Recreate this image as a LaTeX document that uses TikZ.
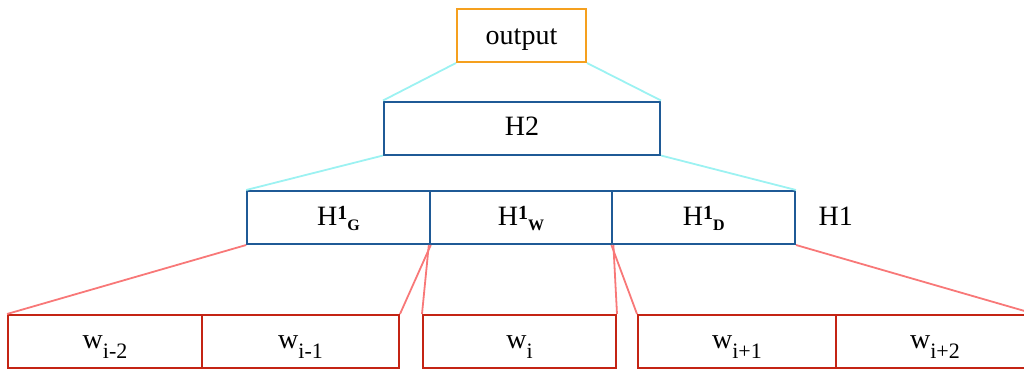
\documentclass[tikz,border=0pt]{standalone}
\usepackage{fontspec}
\setmainfont{Liberation Serif}
\usetikzlibrary{positioning}
\definecolor{outorange}{HTML}{F5A01E}
\definecolor{hblue}{HTML}{1F5A96}
\definecolor{wred}{HTML}{C42414}
\definecolor{lcyan}{HTML}{9CF2F2}
\definecolor{lred}{HTML}{F87878}
\newcommand{\hsub}[1]{H\raisebox{3pt}{\fontsize{10}{11}\selectfont\textbf{1}}\raisebox{-2.5pt}{\fontsize{8}{9}\selectfont\textbf{#1}}}
\newcommand{\wsub}[1]{w\raisebox{-5pt}{\fontsize{11}{12}\selectfont #1}}

\begin{document}
\begin{tikzpicture}[x=0.5pt,y=-0.5pt,node distance=3cm,auto]
		\tikzstyle{outbox} = [rectangle, draw=outorange, line width=1pt, minimum width=64.5pt, minimum height=26.5pt, inner sep=0pt, text height=10pt, text depth=1.5pt]
		\tikzstyle{hbox} = [rectangle, draw=hblue, line width=1pt, minimum height=26.5pt, inner sep=0pt, text height=10pt, text depth=2.5pt]
		\tikzstyle{wbox} = [rectangle, draw=wred, line width=1pt, minimum height=26.5pt, inner sep=0pt, text height=10pt, text depth=3pt]
		\tikzstyle{upline} = [draw=lcyan, line width=0.9pt]
		\tikzstyle{downline} = [draw=lred, line width=0.9pt]
		\useasboundingbox (0,0) rectangle (1024,370);
		\fontsize{14}{16}\selectfont
		\node (out) [outbox] at (521.5,35.5) {output};
		\node (h2) [hbox, minimum width=138pt] at (522,128) {H2};
		\node (hg) [hbox, minimum width=91.3pt] at (338.5,217.5) {\hsub{G}};
		\node (hw) [hbox, minimum width=91.3pt, right of=hg, node distance=91.3pt] {\hsub{W}};
		\node (hd) [hbox, minimum width=91.3pt, right of=hw, node distance=91.3pt] {\hsub{D}};
		\node (h1) [right of=hd, node distance=66pt, text height=10pt, text depth=2.5pt] {H1};
		\node (wa) [wbox, minimum width=97pt] at (105,341.5) {\wsub{i-2}};
		\node (wb) [wbox, minimum width=98.5pt, right of=wa, node distance=97.75pt] {\wsub{i-1}};
		\node (wc) [wbox, minimum width=96.5pt] at (519.5,341.5) {\wsub{i}};
		\node (wd) [wbox, minimum width=99pt] at (737,341.5) {\wsub{i+1}};
		\node (we) [wbox, minimum width=99pt, right of=wd, node distance=99pt] {\wsub{i+2}};
		\path[upline] (out.south west) -- (h2.north west);
		\path[upline] (out.south east) -- (h2.north east);
		\path[upline] (h2.south west) -- (hg.north west);
		\path[upline] (h2.south east) -- (hd.north east);
		\path[downline] (hg.south west) -- (wa.north west);
		\path[downline] (hg.south east) -- (wb.north east);
		\path[downline] (hw.south west) -- (wc.north west);
		\path[downline] (hw.south east) -- (wc.north east);
		\path[downline] (hd.south west) -- (wd.north west);
		\path[downline] (hd.south east) -- (we.north east);
	\end{tikzpicture}
\end{document}
